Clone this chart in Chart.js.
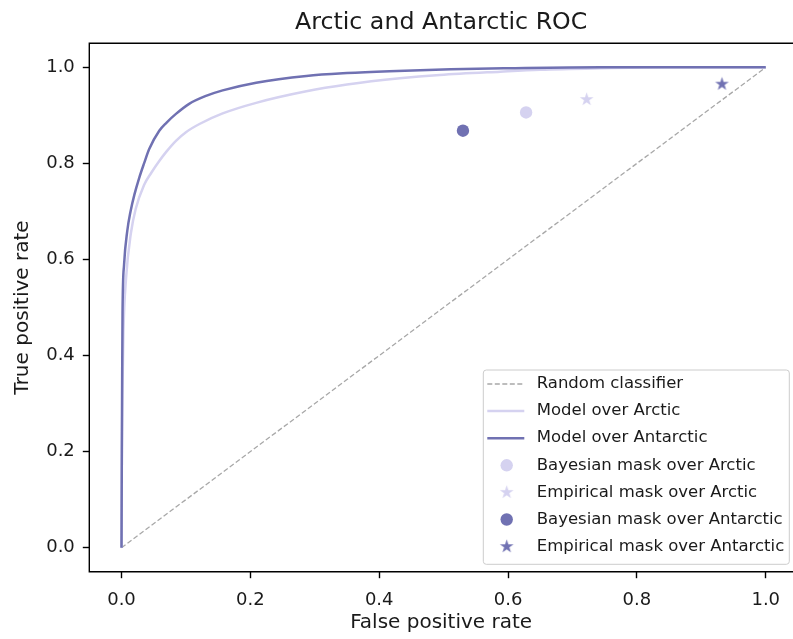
<!DOCTYPE html>
<html><head><meta charset="utf-8">
<script src="https://cdn.jsdelivr.net/npm/chart.js@4"></script>
<style>
html,body{margin:0;padding:0;background:#fff;overflow:hidden;width:793px;height:639px}
#wrap{width:793px;height:639px;position:relative}
</style>
</head><body><div id="wrap"><canvas id="c" width="793" height="639"></canvas></div>
<script>
const chartTitle = 'Arctic and Antarctic ROC';
const xAxisLabel = 'False positive rate';
const yAxisLabel = 'True positive rate';
const tickValues = [0, 0.2, 0.4, 0.6, 0.8, 1.0];

const seriesLabels = ['Random classifier', 'Model over Arctic', 'Model over Antarctic',
  'Bayesian mask over Arctic', 'Empirical mask over Arctic',
  'Bayesian mask over Antarctic', 'Empirical mask over Antarctic'];

const randomFpr = [0, 1];
const randomTpr = [0, 1];

const arcticFpr = [0, 0.0005, 0.0015, 0.003, 0.007, 0.0146, 0.022, 0.035, 0.046, 0.0586, 0.07, 0.0845, 0.1, 0.121, 0.157, 0.209, 0.287, 0.35, 0.432, 0.494, 0.588, 0.65, 0.744, 0.85, 1.0];
const arcticTpr = [0, 0.18, 0.33, 0.45, 0.56, 0.655, 0.705, 0.755, 0.78, 0.805, 0.825, 0.847, 0.865, 0.882, 0.904, 0.926, 0.95, 0.964, 0.977, 0.984, 0.991, 0.995, 0.998, 1.0, 1.0];

const antarcticFpr = [0, 0.0005, 0.001, 0.0016, 0.004, 0.009, 0.014, 0.02, 0.0275, 0.035, 0.043, 0.0586, 0.07, 0.0845, 0.105, 0.13, 0.157, 0.209, 0.287, 0.35, 0.416, 0.511, 0.6, 0.744, 1.0];
const antarcticTpr = [0, 0.2, 0.35, 0.49, 0.59, 0.66, 0.70, 0.735, 0.77, 0.80, 0.83, 0.868, 0.885, 0.903, 0.924, 0.94, 0.952, 0.968, 0.982, 0.988, 0.992, 0.996, 0.998, 1.0, 1.0];

const bayesianArcticFpr = [0.628];
const bayesianArcticTpr = [0.906];
const empiricalArcticFpr = [0.722];
const empiricalArcticTpr = [0.933];
const bayesianAntarcticFpr = [0.530];
const bayesianAntarcticTpr = [0.868];
const empiricalAntarcticFpr = [0.932];
const empiricalAntarcticTpr = [0.965];

const LIGHT = '#d5d2f0';
const DARK = '#7071b2';
const GRAY = '#a8a8a8';
const FONT = '"DejaVu Sans", sans-serif';
const TXT = '#1a1a1a';

function pts(xs, ys) { return xs.map((x, i) => ({x: x, y: ys[i]})); }

function makeStar(color, R) {
  const s = Math.ceil(R * 2 + 2);
  const cv = document.createElement('canvas');
  cv.width = s; cv.height = s;
  const g = cv.getContext('2d');
  g.fillStyle = color;
  g.beginPath();
  for (let i = 0; i < 10; i++) {
    const a = -Math.PI / 2 + i * Math.PI / 5;
    const r = (i % 2 === 0) ? R : R * 0.382;
    const px = s / 2 + r * Math.cos(a), py = s / 2 + r * Math.sin(a);
    if (i === 0) g.moveTo(px, py); else g.lineTo(px, py);
  }
  g.closePath();
  g.fill();
  return cv;
}
const starLight = makeStar(LIGHT, 7.2);
const starDark = makeStar(DARK, 7.2);

// axes frame: left, bottom and top spines (the right spine lies outside the cropped view)
const framePlugin = {
  id: 'frame',
  afterDatasetsDraw(chart) {
    const {ctx, chartArea: a} = chart;
    ctx.save();
    ctx.strokeStyle = '#000';
    ctx.lineWidth = 1.4;
    ctx.beginPath();
    ctx.moveTo(chart.width + 5, a.top);
    ctx.lineTo(a.left, a.top);
    ctx.lineTo(a.left, a.bottom);
    ctx.lineTo(chart.width + 5, a.bottom);
    ctx.stroke();
    ctx.restore();
  }
};

const legendPlugin = {
  id: 'boxLegend',
  afterDraw(chart) {
    const {ctx, chartArea: a} = chart;
    // keep the right edge of the plot open, as in the cropped original
    ctx.save();
    ctx.fillStyle = '#fff';
    ctx.fillRect(a.right - 2.5, a.top + 1, 3, a.bottom - a.top - 2);
    ctx.restore();

    const w = 306, h = 194.3;
    const left = a.left + 394, bottom = a.bottom - 7.4;
    const top = bottom - h;
    ctx.save();
    ctx.beginPath();
    ctx.roundRect(left, top, w, h, 3);
    ctx.fillStyle = 'rgba(255,255,255,0.8)';
    ctx.fill();
    ctx.strokeStyle = '#cccccc';
    ctx.lineWidth = 1;
    ctx.stroke();
    ctx.font = '16.5px ' + FONT;
    ctx.textBaseline = 'middle';
    ctx.textAlign = 'left';
    chart.data.datasets.forEach((ds, i) => {
      const y = top + 14 + i * 27.1;
      if (ds.showLine) {
        ctx.beginPath();
        ctx.strokeStyle = ds.borderColor;
        ctx.lineWidth = ds.borderWidth;
        ctx.setLineDash(ds.borderDash || []);
        ctx.moveTo(left + 4, y);
        ctx.lineTo(left + 41, y);
        ctx.stroke();
        ctx.setLineDash([]);
      } else if (ds.pointStyle === 'circle') {
        ctx.beginPath();
        ctx.fillStyle = ds.backgroundColor;
        ctx.arc(left + 23.4, y, 6.2, 0, Math.PI * 2);
        ctx.fill();
      } else {
        const img = ds.pointStyle;
        ctx.drawImage(img, left + 23.4 - img.width / 2, y - img.height / 2);
      }
      ctx.fillStyle = TXT;
      ctx.fillText(ds.label, left + 53.4, y);
    });
    ctx.restore();
  }
};

const axisGrid = {display: true, drawOnChartArea: false, drawTicks: true, tickLength: 6.5, tickColor: '#000', tickWidth: 1.4};

new Chart(document.getElementById('c'), {
  type: 'scatter',
  data: {
    datasets: [
      {label: seriesLabels[0], data: pts(randomFpr, randomTpr), showLine: true, borderColor: GRAY, borderWidth: 1.3, borderDash: [5, 2.5], pointRadius: 0, fill: false, order: 6},
      {label: seriesLabels[1], data: pts(arcticFpr, arcticTpr), showLine: true, borderColor: LIGHT, borderWidth: 2.5, pointRadius: 0, fill: false, cubicInterpolationMode: 'monotone', order: 5},
      {label: seriesLabels[2], data: pts(antarcticFpr, antarcticTpr), showLine: true, borderColor: DARK, borderWidth: 2.5, pointRadius: 0, fill: false, cubicInterpolationMode: 'monotone', order: 4},
      {label: seriesLabels[3], data: pts(bayesianArcticFpr, bayesianArcticTpr), showLine: false, pointStyle: 'circle', pointRadius: 6.2, backgroundColor: LIGHT, borderWidth: 0, order: 3},
      {label: seriesLabels[4], data: pts(empiricalArcticFpr, empiricalArcticTpr), showLine: false, pointStyle: starLight, pointRadius: 7, backgroundColor: LIGHT, borderWidth: 0, order: 2},
      {label: seriesLabels[5], data: pts(bayesianAntarcticFpr, bayesianAntarcticTpr), showLine: false, pointStyle: 'circle', pointRadius: 6.2, backgroundColor: DARK, borderWidth: 0, order: 1},
      {label: seriesLabels[6], data: pts(empiricalAntarcticFpr, empiricalAntarcticTpr), showLine: false, pointStyle: starDark, pointRadius: 7, backgroundColor: DARK, borderWidth: 0, order: 0}
    ]
  },
  options: {
    responsive: false,
    animation: false,
    devicePixelRatio: 1,
    layout: {autoPadding: false, padding: {left: 0, right: 0, top: 0, bottom: 0}},
    plugins: {
      legend: {display: false},
      tooltip: {enabled: false},
      title: {display: true, text: chartTitle, fullSize: false, color: TXT,
        font: {family: FONT, size: 23.7, weight: 'normal'}, padding: {top: 8.9, bottom: 5.96}}
    },
    scales: {
      x: {
        type: 'linear', min: -0.05, max: 1.0423,
        afterBuildTicks: s => { s.ticks = tickValues.map(v => ({value: v})); },
        afterFit: s => { s.height = 67.3; s.paddingLeft = 0; s.paddingRight = 0; },
        ticks: {callback: v => Number(v).toFixed(1), font: {family: FONT, size: 18}, color: TXT, padding: 11, autoSkip: false, maxRotation: 0},
        grid: axisGrid,
        border: {display: false},
        title: {display: true, text: xAxisLabel, color: TXT, font: {family: FONT, size: 20}, padding: {top: 0, bottom: 4.3}}
      },
      y: {
        type: 'linear', min: -0.05, max: 1.05,
        afterBuildTicks: s => { s.ticks = tickValues.map(v => ({value: v})); },
        afterFit: s => { s.width = 89.3; s.paddingTop = 0; s.paddingBottom = 0; },
        ticks: {callback: v => Number(v).toFixed(1), font: {family: FONT, size: 18}, color: TXT, padding: 8, autoSkip: false},
        grid: axisGrid,
        border: {display: false},
        title: {display: true, text: yAxisLabel, color: TXT, font: {family: FONT, size: 20}, padding: {top: 10.7, bottom: 0}}
      }
    }
  },
  plugins: [framePlugin, legendPlugin]
});
</script>
</body></html>
